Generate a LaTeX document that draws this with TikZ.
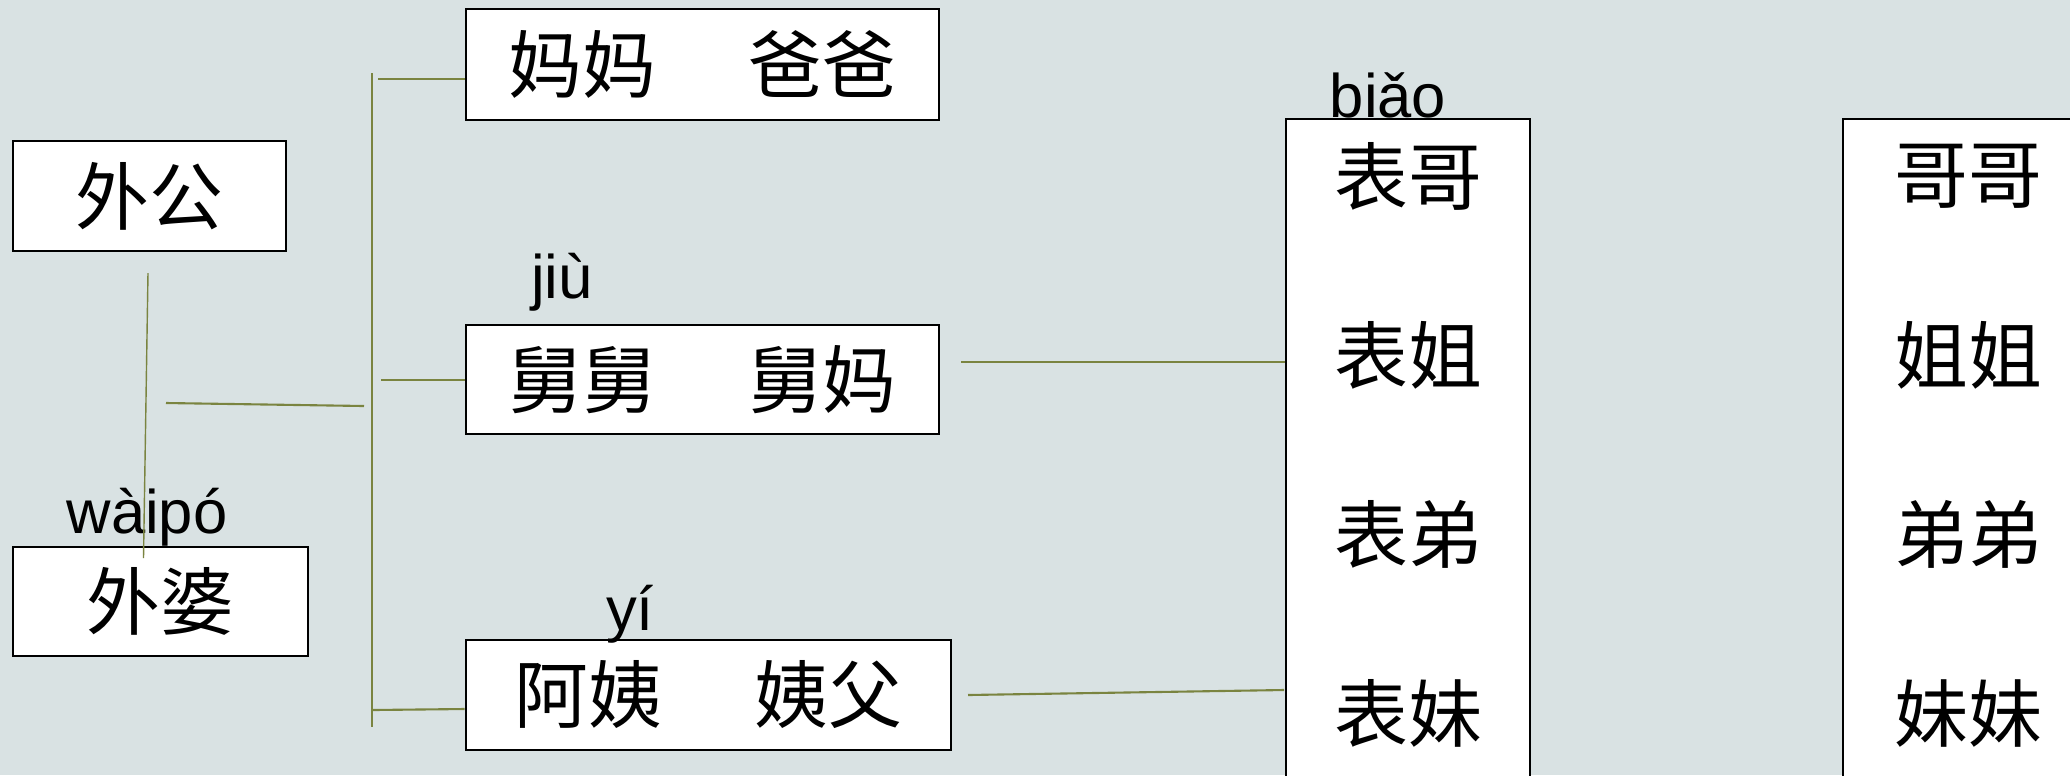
\documentclass[tikz,border=0pt]{standalone}
\usepackage{fontspec}
\setmainfont{Liberation Sans}
\newfontfamily\cjk{Noto Sans CJK SC}
\definecolor{bgblue}{RGB}{217,226,227}
\definecolor{olive}{RGB}{122,132,64}
\newcommand\hanzi{\cjk\fontsize{21pt}{25pt}\selectfont}
\newcommand\pinyin{\fontsize{17.5pt}{20pt}\selectfont}

\begin{document}
\begin{tikzpicture}[x=0.01cm,y=-0.01cm,
        box/.style={draw=black,line width=0.7pt,fill=white,inner sep=0pt,font=\hanzi},
        link/.style={draw=olive,line width=0.6pt},
        thinlink/.style={draw=olive,line width=0.4pt},
        py/.style={anchor=base,inner sep=0pt,font=\pinyin},
        zi/.style={inner sep=0pt,font=\hanzi}]
        \clip (0,0) rectangle (2070,775);
        \fill[bgblue] (0,0) rectangle (2070,775);
        % grandparents
        \node[box,minimum width=2.73cm,minimum height=1.1cm] (waigong) at (149.5,196) {外公};
        \node[box,minimum width=2.95cm,minimum height=1.09cm] (waipo) at (160.5,601.5) {外婆};
        \node[py] (waipopy) at (147,533) {wàipó};
        % children
        \node[box,minimum width=4.73cm,minimum height=1.11cm] (mama) at (702.5,64.5) {妈妈\hspace{1.25em}爸爸};
        \node[box,minimum width=4.73cm,minimum height=1.09cm] (jiujiu) at (702.5,379.5) {舅舅\hspace{1.25em}舅妈};
        \node[py] (jiupy) at (562,298) {jiù};
        \node[box,minimum width=4.85cm,minimum height=1.1cm] (ayi) at (708.5,695) {阿姨\hspace{1.25em}姨父};
        \node[py] (yipy) at (630,630) {yí};
        % grandchildren
        \node[box,minimum width=2.44cm,minimum height=7cm] (biao) at (1408,469) {};
        \node[py] (biaopy) at (1388,117) {biǎo};
        \node[box,minimum width=2.5cm,minimum height=7cm] (sibs) at (1968,469) {};
        \foreach \i/\a/\b in {0/表哥/哥哥,1/表姐/姐姐,2/表弟/弟弟,3/表妹/妹妹} {
            \node[zi] (biao\i) at (1408,{176+179*\i}) {\a};
            \node[zi] (sibs\i) at (1968,{176+179*\i}) {\b};
        }
        % connectors
        \coordinate (gongdown) at (148,273);
        \coordinate (podown) at (143.5,558);
        \coordinate (pair) at (166,403);
        \coordinate (pairend) at (364,406);
        \coordinate (bktop) at (372,73);
        \coordinate (bkbot) at (372,727);
        \coordinate (bk1) at (378,79);
        \coordinate (bk2) at (381,380);
        \coordinate (bk3) at (373,710);
        \coordinate (jiuout) at (961,362);
        \coordinate (ayiout) at (968,695);
        \coordinate (ayiin) at (1284,690);
        \draw[thinlink] (gongdown) -- (podown);
        \draw[link] (pair) -- (pairend);
        \draw[thinlink] (bktop) -- (bkbot);
        \draw[link] (bk1) -- (bk1 -| mama.west);
        \draw[link] (bk2) -- (bk2 -| jiujiu.west);
        \draw[link] (bk3) -- (ayi.west |- 0,709);
        \draw[link] (jiuout) -- (jiuout -| biao.west);
        \draw[link] (ayiout) -- (ayiin);
    \end{tikzpicture}
\end{document}
